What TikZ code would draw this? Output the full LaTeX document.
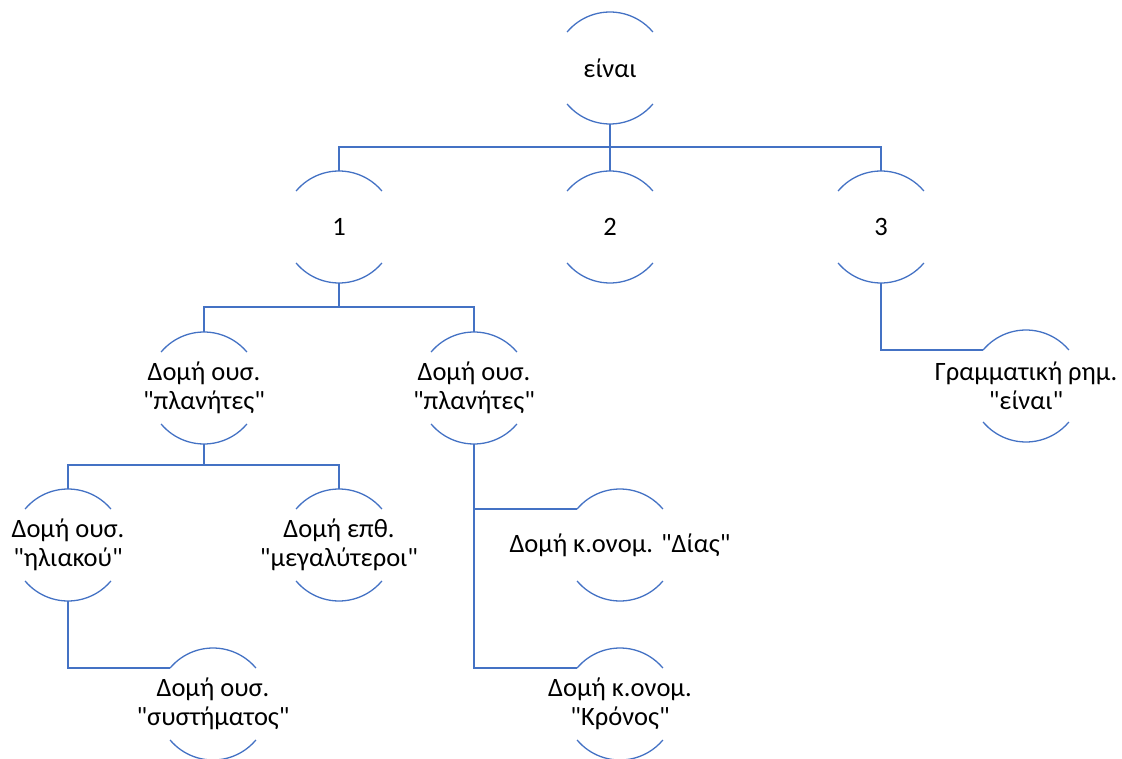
\documentclass[tikz,border=0pt]{standalone}
\usepackage{fontspec}
\setmainfont{Carlito}[Ligatures=TeXOff]
\begin{document}
\begin{tikzpicture}[x=1pt,y=1pt,
  wire/.style={draw=linkblue,line width=1.3pt},
  unit/.style={inner sep=0pt,align=center,
    font=\fontsize{26.5}{29}\selectfont,text=black}]
\definecolor{linkblue}{HTML}{4472C4}
\useasboundingbox (0,0) rectangle (1122,-759);

% nodes of the tree (text placed at the circle centre)
\node[unit] (top) at (610,-68) {είναι};
\node[unit] (n1) at (339,-227) {1};
\node[unit] (n2) at (610,-227) {2};
\node[unit] (n3) at (881,-227) {3};
\node[unit] (p1) at (204,-388) {Δομή ουσ.\\"πλανήτες"};
\node[unit] (p2) at (474,-388) {Δομή ουσ.\\"πλανήτες"};
\node[unit] (hl) at (68,-545) {Δομή ουσ.\\"ηλιακού"};
\node[unit] (mg) at (339,-545) {Δομή επθ.\\"μεγαλύτεροι"};
\node[unit] (sy) at (213,-704) {Δομή ουσ.\\"συστήματος"};
\node[unit] (di) at (620,-545) {Δομή κ.ονομ. "Δίας"};
\node[unit] (kr) at (620,-704) {Δομή κ.ονομ.\\"Κρόνος"};
\node[unit] (gr) at (1026,-386) {Γραμματική ρημ.\\"είναι"};

% upper and lower arcs of every node, radius 56
\foreach \n in {top,n1,n2,n3,p1,p2,hl,mg,sy,di,kr,gr}{
  \draw[wire] ([shift={(140:56)}]\n.center) arc[start angle=140,end angle=40,radius=56pt];
  \draw[wire] ([shift={(220:56)}]\n.center) arc[start angle=220,end angle=320,radius=56pt];
  \coordinate (\n-t) at ([yshift=56pt]\n.center);
  \coordinate (\n-b) at ([yshift=-56pt]\n.center);
  \coordinate (\n-l) at ([shift={(140:56)}]\n.center);
}

% connectors
\draw[wire] (top-b) -- ++(0,-23) coordinate (j0);
\draw[wire] (n1-t) |- (j0) -| (n3-t);
\draw[wire] (j0) -- (n2-t);

\draw[wire] (n1-b) -- ++(0,-24) coordinate (j1);
\draw[wire] (p1-t) |- (j1) -| (p2-t);

\draw[wire] (p1-b) -- ++(0,-21) coordinate (j2);
\draw[wire] (hl-t) |- (j2) -| (mg-t);

\draw[wire] (hl-b) |- (sy-l);
\draw[wire] (p2-b) |- (kr-l);
\draw[wire] (p2-b |- di-l) -- (di-l);
\draw[wire] (n3-b) |- (gr-l);
\end{tikzpicture}
\end{document}
